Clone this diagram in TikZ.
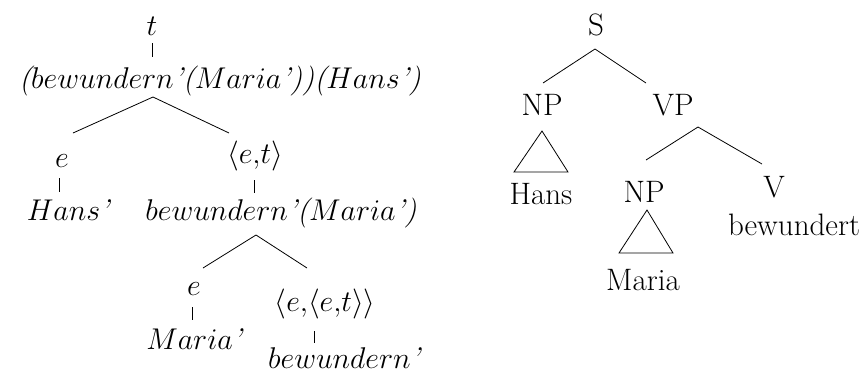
\RequirePackage{fix-cm}
\documentclass[tikz,border=0pt]{standalone}
\newcommand{\ap}{\mbox{\itshape '}}
\newcommand{\lp}{\mbox{\itshape (}}
\newcommand{\rp}{\mbox{\itshape )}}
\begin{document}
\begin{tikzpicture}[x=1pt,y=-1pt,
  lab/.style={anchor=base,inner sep=0pt,font=\fontsize{30}{36}\selectfont},
  rlab/.style={anchor=base,inner sep=0pt,font=\fontsize{31}{37}\selectfont},
  edge/.style={line width=0.8pt}]
\useasboundingbox (0,0) rectangle (865,376);
% ---------- left tree ----------
\node[lab] (t) at (152,35) {$t$};
\node[lab] (root) at (220,88) {$\lp bewundern\ap\lp Maria\ap\rp\rp\lp Hans\ap\rp$};
\node[lab] (e1) at (62,167) {$e$};
\node[lab] (et) at (255,163) {$\langle e{,}t\rangle$};
\node[lab] (hans) at (68,220) {$Hans\ap$};
\node[lab] (bm) at (281,220) {$bewundern\ap\lp Maria\ap\rp$};
\node[lab] (e2) at (194,295) {$e$};
\node[lab] (eet) at (325,311) {$\langle e{,}\langle e{,}t\rangle\rangle$};
\node[lab] (maria) at (194,349) {$Maria\ap$};
\node[lab] (bew) at (344,368) {$bewundern\ap$};
\coordinate (t1) at (152,43); \coordinate (t2) at (152,57);
\coordinate (ra) at (153,97); \coordinate (rl) at (73,133); \coordinate (rr) at (229,133);
\coordinate (e1a) at (59,178); \coordinate (e1b) at (59,192);
\coordinate (eta) at (254,180); \coordinate (etb) at (254,193);
\coordinate (ba) at (256,235); \coordinate (bl) at (203,268); \coordinate (br) at (307,268);
\coordinate (e2a) at (192,307); \coordinate (e2b) at (192,320);
\coordinate (eeta) at (314,331); \coordinate (eetb) at (314,343);
\draw[edge] (t1) -- (t2);
\draw[edge] (rl) -- (ra) -- (rr);
\draw[edge] (e1a) -- (e1b);
\draw[edge] (eta) -- (etb);
\draw[edge] (bl) -- (ba) -- (br);
\draw[edge] (e2a) -- (e2b);
\draw[edge] (eeta) -- (eetb);
% ---------- right tree ----------
\node[rlab] (S) at (596,35) {S};
\node[rlab] (np1) at (542,115) {NP};
\node[rlab] (vp) at (673,115) {VP};
\node[rlab] (hansr) at (541,204) {Hans};
\node[rlab] (np2) at (644,202) {NP};
\node[rlab] (v) at (774,197) {V};
\node[rlab] (mariar) at (643,290) {Maria};
\node[rlab] (bewr) at (794,235) {bewundert};
\coordinate (sa) at (595,49); \coordinate (sl) at (543,83); \coordinate (sr) at (646,83);
\coordinate (va) at (698,127); \coordinate (vl) at (646,160); \coordinate (vr) at (762,164);
\draw[edge] (sl) -- (sa) -- (sr);
\draw[edge] (vl) -- (va) -- (vr);
\draw[edge] (542,131) -- (514,172) -- (568,172) -- cycle;
\draw[edge] (647,210) -- (619,253) -- (673,253) -- cycle;
\end{tikzpicture}
\end{document}
